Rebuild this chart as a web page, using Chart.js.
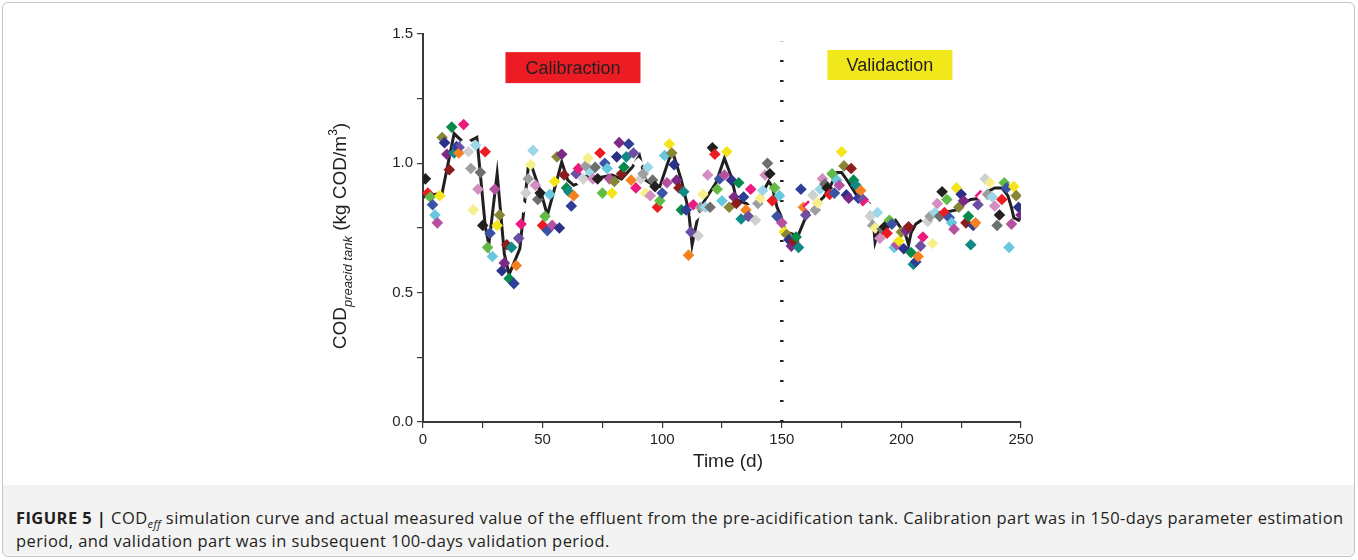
<!DOCTYPE html>
<html>
<head>
<meta charset="utf-8">
<script src="https://cdn.jsdelivr.net/npm/chart.js@4.4.1/dist/chart.umd.min.js"></script>
<style>
  body { margin: 0; background: #fff; width: 1358px; height: 560px; overflow: hidden; font-family: "Liberation Sans", Arial, sans-serif; }
  #frame { position: absolute; left: 2px; top: 2px; width: 1353px; height: 555px; border: 1px solid #c4c4c4; border-radius: 6px; box-sizing: border-box; }
  #wrap { position: absolute; left: 0; top: 0; width: 1358px; height: 480px; }
  #caption { position: absolute; left: 3px; top: 485px; width: 1351px; height: 70px; background: #f3f3f3; box-sizing: border-box;
             padding: 21px 0 0 13px; font-family: "Open Sans", sans-serif; font-size: 16.5px; letter-spacing: 0.42px; line-height: 23px; color: #231f20; white-space: nowrap; }
</style>
</head>
<body>
<div id="wrap"><canvas id="chart"></canvas></div>
<div id="caption"><b>FIGURE 5 |</b> COD<sub style="font-size:11px;line-height:0"><i>eff</i></sub> simulation curve and actual measured value of the effluent from the pre-acidification tank. Calibration part was in 150-days parameter estimation<br>period, and validation part was in subsequent 100-days validation period.</div>
<div id="frame"></div>
<script>
// measured COD, one point per day starting at day 1 (rows of 24 = one colour cycle)
const firstDay = 1;
const measured = [
  0.94, 0.885, 0.87, 0.84, 0.80, 0.77, 0.875, 1.10, 1.08, 1.035, 0.975, 1.14, 1.04, 1.065, 1.04, 1.07, 1.15, 1.08, 1.045, 0.98, 0.82, 1.07, 0.90, 0.965,
  0.76, 1.045, 0.675, 0.73, 0.64, 0.90, 0.76, 0.80, 0.585, 0.615, 0.685, 0.555, 0.675, 0.535, 0.605, 0.71, 0.765, 0.83, 0.885, 0.94, 0.995, 1.05, 0.915, 0.86,
  0.885, 0.76, 0.795, 0.74, 0.88, 0.76, 0.93, 1.025, 0.75, 1.035, 0.955, 0.905, 0.89, 0.835, 0.875, 0.96, 0.98, 0.93, 0.94, 0.99, 1.02, 0.965, 0.94, 0.985,
  0.94, 1.04, 0.885, 1.0, 0.98, 0.94, 0.885, 0.93, 1.025, 1.08, 0.96, 0.985, 1.025, 1.075, 0.935, 1.04, 0.905, 1.0, 0.94, 0.96, 0.885, 0.985, 0.875, 0.935,
  0.91, 0.83, 0.855, 0.885, 1.03, 0.925, 1.075, 1.04, 0.995, 0.935, 0.905, 0.82, 0.89, 0.82, 0.645, 0.735, 0.84, 0.80, 0.72, 0.83, 0.88, 0.83, 0.955, 0.83,
  1.06, 1.035, 0.90, 0.94, 0.855, 0.955, 1.045, 0.83, 0.935, 0.87, 0.845, 0.925, 0.785, 0.87, 0.82, 0.795, 0.90, 0.85, 0.78, 0.845, 0.865, 0.895, 0.955, 1.0,
  0.96, 0.855, 0.905, 0.795, 0.875, 0.77, 0.735, 0.725, 0.705, 0.68, 0.70, 0.715, 0.675, 0.90, 0.83, 0.80, 0.835, 0.83, 0.877, 0.82, 0.847, 0.90, 0.94, 0.92,
  0.905, 0.88, 0.96, 0.885, 0.935, 0.915, 1.045, 0.99, 0.878, 0.865, 0.98, 0.935, 0.915, 0.865, 0.895, 0.86, 0.845, 0.83, 0.795, 0.76, 0.75, 0.81, 0.71, 0.745,
  0.755, 0.73, 0.78, 0.765, 0.675, 0.685, 0.70, 0.735, 0.67, 0.74, 0.755, 0.655, 0.61, 0.62, 0.64, 0.68, 0.715, 0.79, 0.775, 0.795, 0.69, 0.81, 0.845, 0.795,
  0.89, 0.81, 0.86, 0.79, 0.77, 0.745, 0.905, 0.83, 0.88, 0.855, 0.77, 0.795, 0.685, 0.76, 0.77, 0.84, 0.875, 0.87, 0.94, 0.88, 0.925, 0.87, 0.835, 0.76,
  0.80, 0.86, 0.925, 0.905, 0.675, 0.765, 0.91, 0.875, 0.83, 0.80
];

// simulation curve
const simDays = [0, 8, 13, 17.5, 22.5, 26, 27.5, 31, 34, 36, 40.5, 44, 45, 50, 52, 58, 60.5, 63, 65.5, 68, 74, 79, 83, 87.5, 90.5, 93, 96.5, 99,
  103, 104.5, 108, 111, 112.5, 115.5, 118, 122.5, 126, 129, 131, 135, 139.5, 144.5, 146, 148, 149.5, 151.5, 155, 157, 159, 161, 163, 167.5,
  170.5, 173, 175, 178, 181, 183.5, 186, 188.5, 189, 190.5, 193, 197.5, 199, 201.5, 203, 204, 206, 210, 214, 218, 223, 225, 229, 233, 236,
  239, 242, 244.5, 246, 247, 249, 250];
const simValues = [0.87, 0.885, 1.115, 1.075, 1.10, 0.76, 0.685, 0.96, 0.65, 0.57, 0.67, 0.985, 1.0, 0.865, 0.80, 1.005, 0.935, 0.915, 0.925, 0.95, 0.945, 0.955, 0.94, 0.985, 1.03, 0.935, 0.915, 0.91,
  1.02, 1.04, 0.935, 0.82, 0.685, 0.82, 0.86, 0.925, 1.02, 0.945, 0.86, 0.845, 0.845, 0.93, 0.91, 0.83, 0.80, 0.735, 0.725, 0.725, 0.77, 0.81, 0.83, 0.87,
  0.915, 0.965, 0.965, 0.925, 0.88, 0.86, 0.83, 0.75, 0.695, 0.74, 0.76, 0.78, 0.76, 0.73, 0.685, 0.73, 0.765, 0.79, 0.81, 0.81, 0.82, 0.84, 0.86, 0.865, 0.89,
  0.905, 0.905, 0.875, 0.83, 0.79, 0.78, 0.80];

// split between calibration and validation
const splitDay = 150;
const splitTop = 1.47;
const regionLabels = ["Calibraction", "Validaction"];

// Origin's incrementing colour list (as printed)
const originColors = ["#231f20", "#ed1c24", "#62bb46", "#3a53a4", "#65c8de", "#b5519f", "#f4e51b", "#878637",
  "#2b3088", "#7b2b85", "#8c1c1e", "#068a4b", "#0f8a86", "#2f3f98", "#f58220", "#6b4fa0",
  "#ec1a7e", "#ffffff", "#cfd0d2", "#9c9ea0", "#f6ef8c", "#9bd7e8", "#d38dc0", "#6d6e70"];

const ink = "#231f20";
const txtFont = '"Liberation Sans", Arial, sans-serif';

const decor = {
  id: "decor",
  afterDraw(chart) {
    const ctx = chart.ctx, xs = chart.scales.x, ys = chart.scales.y;
    ctx.save();
    // region label boxes
    const boxes = [
      { text: regionLabels[0], day: 62.7, val: 1.37, w: 135, h: 31, bg: "#ed1c24" },
      { text: regionLabels[1], day: 195.2, val: 1.38, w: 125, h: 30, bg: "#f0e81a" }
    ];
    boxes.forEach(b => {
      const cx = xs.getPixelForValue(b.day), cy = ys.getPixelForValue(b.val);
      ctx.fillStyle = b.bg;
      ctx.fillRect(cx - b.w / 2, cy - b.h / 2, b.w, b.h);
      ctx.fillStyle = ink;
      ctx.font = "18px " + txtFont;
      ctx.textAlign = "center";
      ctx.textBaseline = "middle";
      ctx.fillText(b.text, cx, cy + 1);
    });

    // x title
    ctx.font = "19px " + txtFont;
    ctx.textAlign = "center";
    ctx.textBaseline = "alphabetic";
    ctx.fillText("Time (d)", (xs.left + xs.right) / 2 + 6, 467);

    // y title with sub/superscript
    const parts = [
      { t: "COD", f: "19px " + txtFont, dy: 0 },
      { t: "preacid tank", f: "italic 13px " + txtFont, dy: 6 },
      { t: " (kg COD/m", f: "19px " + txtFont, dy: 0 },
      { t: "3", f: "12px " + txtFont, dy: -9 },
      { t: ")", f: "19px " + txtFont, dy: 0 }
    ];
    let total = 0;
    parts.forEach(p => { ctx.font = p.f; p.w = ctx.measureText(p.t).width; total += p.w; });
    ctx.translate(346, 236);
    ctx.rotate(-Math.PI / 2);
    ctx.textAlign = "left";
    let px = -total / 2;
    parts.forEach(p => { ctx.font = p.f; ctx.fillText(p.t, px, p.dy); px += p.w; });
    ctx.restore();
  }
};

const points = measured.map((v, i) => ({ x: firstDay + i, y: v }));
const sim = simDays.map((d, i) => ({ x: d, y: simValues[i] }));

new Chart(document.getElementById("chart"), {
  type: "scatter",
  data: {
    datasets: [
      {
        label: "Measured", data: points, order: 0,
        pointStyle: "rectRot", pointRadius: 5.8, pointBorderWidth: 0,
        pointBackgroundColor: points.map((p, i) => originColors[i % originColors.length]),
        pointBorderColor: "rgba(0,0,0,0)"
      },
      {
        label: "Simulation", data: sim, order: 1, showLine: true,
        borderColor: ink, borderWidth: 3, pointRadius: 0, tension: 0
      },
      {
        label: "split", data: [{ x: splitDay, y: 0 }, { x: splitDay, y: splitTop }], order: 2, showLine: true,
        borderColor: ink, borderWidth: 3.5, borderDash: [2, 18], pointRadius: 0
      }
    ]
  },
  options: {
    responsive: true, maintainAspectRatio: false, animation: false,
    layout: { padding: { left: 0, right: 337, top: 34, bottom: 0 } },
    plugins: { legend: { display: false }, tooltip: { enabled: false } },
    scales: {
      x: {
        type: "linear", min: 0, max: 250,
        afterFit: s => { s.height = 58; },
        border: { display: true, color: "#3a3a3a", width: 2 },
        grid: { display: true, drawOnChartArea: false, drawTicks: true, tickLength: 6, color: "#3a3a3a", lineWidth: 1.2 },
        ticks: { stepSize: 25, autoSkip: false, maxRotation: 0, color: ink, font: { family: "Liberation Sans", size: 15 }, padding: 3,
                 callback: v => (v % 50 === 0 ? String(v) : "") }
      },
      y: {
        min: 0, max: 1.5,
        afterFit: s => { s.width = 423; },
        border: { display: true, color: "#3a3a3a", width: 2 },
        grid: { display: true, drawOnChartArea: false, drawTicks: true, tickLength: 6, color: "#3a3a3a", lineWidth: 1.2 },
        ticks: { stepSize: 0.25, autoSkip: false, color: ink, font: { family: "Liberation Sans", size: 15 }, padding: 4,
                 callback: v => (Math.abs(v * 2 - Math.round(v * 2)) < 1e-6 ? v.toFixed(1) : "") }
      }
    }
  },
  plugins: [decor]
});
</script>
</body>
</html>
